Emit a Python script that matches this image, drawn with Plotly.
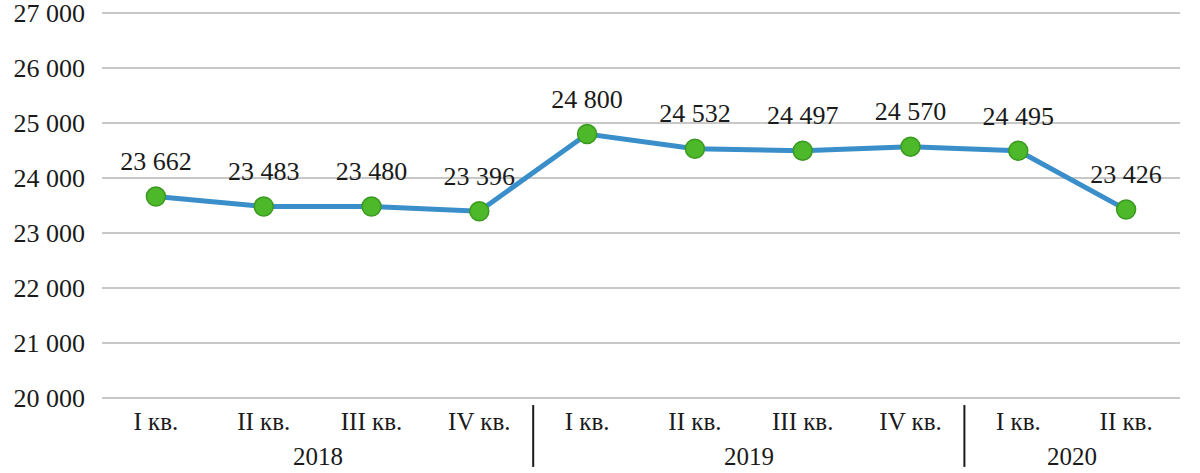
import plotly.graph_objects as go

years = ["2018"] * 4 + ["2019"] * 4 + ["2020"] * 2
quarters = ["I кв.", "II кв.", "III кв.", "IV кв.",
            "I кв.", "II кв.", "III кв.", "IV кв.",
            "I кв.", "II кв."]
values = [23662, 23483, 23480, 23396, 24800, 24532, 24497, 24570, 24495, 23426]
y_ticks = [20000, 21000, 22000, 23000, 24000, 25000, 26000, 27000]

FONT = "Times New Roman, Liberation Serif, Tinos, serif"
TXT = "#1a1a1a"

cats = [f"{y} {q}" for y, q in zip(years, quarters)]

fig = go.Figure()
fig.add_trace(go.Scatter(
    x=cats, y=values,
    mode="lines+markers",
    line=dict(color="#3a8ec9", width=5),
    marker=dict(size=19, color="#4cb82a", line=dict(color="#3a9a20", width=1.5)),
    cliponaxis=False, hoverinfo="skip",
))
fig.add_trace(go.Scatter(
    x=cats, y=values,
    mode="markers+text",
    texttemplate="%{y:,d}",
    textposition="top center",
    textfont=dict(family=FONT, size=26, color=TXT),
    marker=dict(size=30, opacity=0),
    cliponaxis=False, hoverinfo="skip",
))

# year groups: labels centred under their quarters, dividers between groups
groups = []
for i, y in enumerate(years):
    if not groups or groups[-1][0] != y:
        groups.append([y, i, i])
    else:
        groups[-1][2] = i
for y, i0, i1 in groups:
    fig.add_annotation(x=(i0 + i1) / 2, xref="x", y=-0.1465, yref="paper",
                       text=y, showarrow=False, yanchor="middle",
                       font=dict(family=FONT, size=25, color=TXT))
for y, i0, i1 in groups[1:]:
    fig.add_shape(type="line", xref="x", yref="paper",
                  x0=i0 - 0.5, x1=i0 - 0.5, y0=-0.013, y1=-0.172,
                  line=dict(color=TXT, width=2))

fig.update_layout(
    width=1200, height=473,
    margin=dict(l=102, r=20, t=11, b=73),
    paper_bgcolor="white", plot_bgcolor="white",
    showlegend=False,
    separators=". ",
    font=dict(family=FONT, size=26, color=TXT),
)
fig.update_yaxes(
    range=[19964, 27036],
    tickvals=y_ticks, tickformat=",d",
    showgrid=True, gridcolor="#c8c8c8", gridwidth=2,
    zeroline=False, showline=False,
    ticks="", ticklabelstandoff=16, automargin=False,
    ticklabeloverflow="allow",
    tickfont=dict(family=FONT, size=26, color=TXT),
)
fig.update_xaxes(
    type="category",
    range=[-0.5, len(cats) - 0.5],
    tickvals=cats, ticktext=quarters,
    showgrid=False, showline=False, zeroline=False,
    ticks="", automargin=False, ticklabelstandoff=4,
    tickfont=dict(family=FONT, size=25, color=TXT),
)

fig.write_html("out.html", config={"displayModeBar": False},
               post_script="document.body.style.margin='0';")
